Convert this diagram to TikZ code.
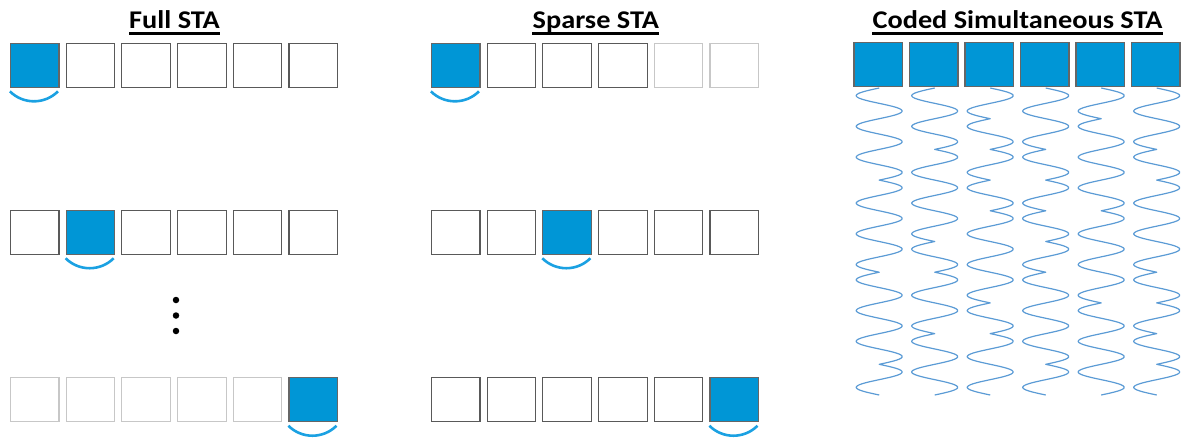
\documentclass[tikz,border=0pt]{standalone}
\usepackage{fontspec}
\setmainfont{Carlito}
\usetikzlibrary{calc}
\definecolor{stablue}{RGB}{0,150,214}
\definecolor{arcblue}{RGB}{27,161,226}
\definecolor{waveblue}{RGB}{91,155,213}
\begin{document}
\begin{tikzpicture}[x=1pt,y=-1pt,
  cell/.style={draw=black!65, line width=1.1pt, minimum width=48.5pt, minimum height=44pt, inner sep=0pt, fill=white},
  faded/.style={draw=black!22},
  hot/.style={fill=stablue, draw=black!60},
  sweep/.style={draw=arcblue, line width=2.6pt},
  wave/.style={draw=waveblue, line width=1.2pt, line join=round},
  title/.style={font=\bfseries\fontsize{25.5}{30}\selectfont, inner sep=0pt, anchor=base, xscale=1.11, transform shape},
  uline/.style={line width=2.2pt},
  dot/.style={circle, fill=black, inner sep=0pt, minimum size=6.5pt}]
\useasboundingbox (0,0) rectangle (1182,437);

% titles
\node[title] (tf) at (174.5,28.7) {Full STA};
\node[title] (ts) at (595.8,28.7) {Sparse STA};
\node[title] (tc) at (1017.5,28.7) {Coded Simultaneous STA};
\foreach \t in {tf,ts,tc}
  \draw[uline] ($(\t.base west)+(0,4.8)$) -- ($(\t.base east)+(0,4.8)$);

% Full STA
\foreach \k/\st in {1/hot,2/,3/,4/,5/,6/}
  \node[cell,\st] (fa\k) at ({34.7+55.7*(\k-1)},65.3) {};
\foreach \k/\st in {1/,2/hot,3/,4/,5/,6/}
  \node[cell,\st] (fb\k) at ({34.7+55.7*(\k-1)},232.2) {};
\foreach \k/\st in {1/faded,2/faded,3/faded,4/faded,5/faded,6/hot}
  \node[cell,\st] (fc\k) at ({34.7+55.7*(\k-1)},399.7) {};
\draw[sweep] ($(fa1.south west)+(0,3.5)$) arc[start angle=225,end angle=315,radius=34pt];
\draw[sweep] ($(fb2.south west)+(0,3.5)$) arc[start angle=225,end angle=315,radius=34pt];
\draw[sweep] ($(fc6.south west)+(0,3.5)$) arc[start angle=225,end angle=315,radius=34pt];
\node[dot] (d1) at (176,300) {};
\node[dot] (d2) at (176,315.5) {};
\node[dot] (d3) at (176,331) {};

% Sparse STA
\foreach \k/\st in {1/hot,2/,3/,4/,5/faded,6/faded}
  \node[cell,\st] (sa\k) at ({455.7+55.7*(\k-1)},65.3) {};
\foreach \k/\st in {1/,2/,3/hot,4/,5/,6/}
  \node[cell,\st] (sb\k) at ({455.7+55.7*(\k-1)},232.2) {};
\foreach \k/\st in {1/,2/,3/,4/,5/,6/hot}
  \node[cell,\st] (sc\k) at ({455.7+55.7*(\k-1)},399.7) {};
\draw[sweep] ($(sa1.south west)+(0,3.5)$) arc[start angle=225,end angle=315,radius=34pt];
\draw[sweep] ($(sb3.south west)+(0,3.5)$) arc[start angle=225,end angle=315,radius=34pt];
\draw[sweep] ($(sc6.south west)+(0,3.5)$) arc[start angle=225,end angle=315,radius=34pt];

% Coded simultaneous STA
\foreach \k in {1,...,6}
  \node[cell,hot] (ca\k) at ({878.2+55.5*(\k-1)},64.6) {};

\def\wy{88}
\def\wh{15.35}
\foreach \c/\seq in {
  0/{-1,1,-1,1,-1,1,1,-1,1,-1,1,-1,-1,1,-1,1,-1,1,1,-1},
  1/{-1,1,-1,1,1,-1,1,-1,1,-1,-1,1,1,-1,1,-1,-1,1,-1,1},
  2/{1,-1,-1,1,1,-1,-1,1,1,-1,1,-1,1,-1,-1,1,1,-1,1,-1},
  3/{1,-1,1,-1,-1,1,1,-1,-1,1,1,-1,-1,1,-1,1,-1,1,1,-1},
  4/{1,-1,-1,1,-1,1,-1,1,1,-1,1,-1,1,-1,-1,1,-1,1,-1,1},
  5/{1,-1,1,-1,-1,1,1,-1,1,-1,1,-1,-1,1,1,-1,-1,1,1,-1}} {
  \pgfmathsetmacro\wc{879.2+55.5*\c}
  \draw[wave] (\wc,\wy) \foreach \s [count=\i from 0] in \seq {
    -- plot[domain=0:1,samples=16] ({\wc+(\s)*23*sin(\x*180)},{\wy+(\i+\x)*\wh})
  };
}
\end{tikzpicture}
\end{document}
